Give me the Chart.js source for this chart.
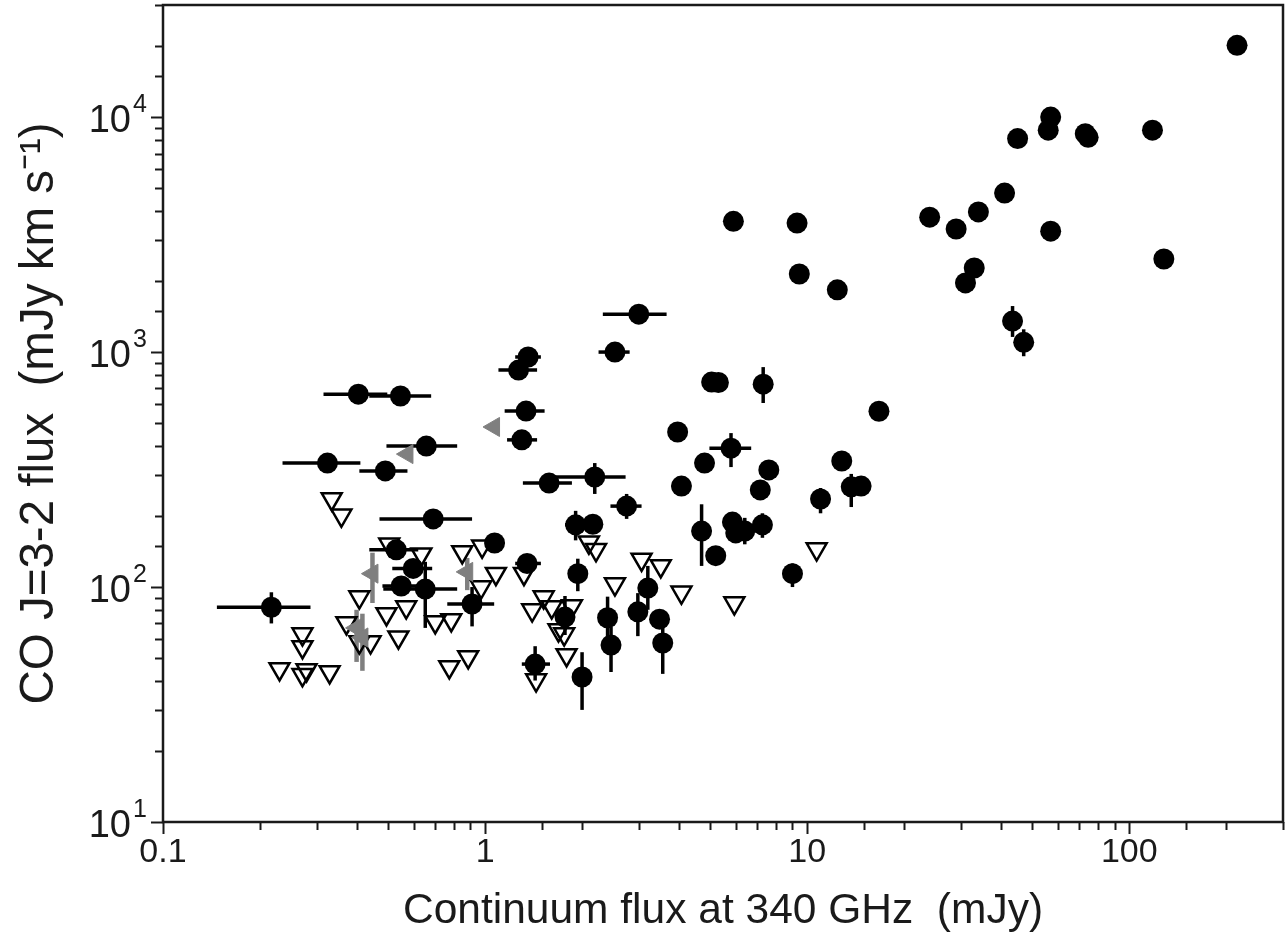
<!DOCTYPE html>
<html>
<head>
<meta charset="utf-8">
<script src="https://cdn.jsdelivr.net/npm/chart.js@4.4.1/dist/chart.umd.min.js"></script>
<style>
  html, body { margin: 0; padding: 0; background: #fff; }
  canvas { display: block; }
</style>
</head>
<body>
<canvas id="coChart" width="1286" height="937"></canvas>
<script>
// detections (filled circles): 340 GHz continuum (mJy) vs CO J=3-2 flux (mJy km/s)
const detX = [216, 57, 56, 45, 73, 74.5, 118, 41, 34, 24,
  29, 57, 128, 33, 31, 43.4, 47, 9.3, 5.9, 9.45,
  12.4, 5.05, 5.3, 7.3, 16.7, 5.8, 4.8, 7.6, 7.15, 12.8,
  11, 13.7, 14.7, 3.96, 4.07, 4.7, 5.2, 5.86, 6.0, 6.4,
  7.26, 9.0, 3.0, 2.53, 1.36, 1.27, 1.34, 1.30, 1.58, 2.19,
  2.75, 1.91, 2.16, 1.07, 1.35, 1.94, 1.77, 2.4, 2.46, 2.98,
  3.2, 3.48, 3.56, 1.43, 2.0, 0.404, 0.546, 0.657, 0.324, 0.49,
  0.69, 0.53, 0.598, 0.549, 0.652, 0.911, 0.217];
const detY = [20200, 10000, 8800, 8100, 8500, 8200, 8800, 4750, 3950, 3750,
  3340, 3270, 2490, 2280, 1970, 1355, 1100, 3540, 3600, 2150,
  1840, 745, 742, 730, 560, 390, 337, 315, 259, 344,
  237, 267, 269, 457, 269, 173, 136, 189, 170, 173,
  184, 114, 1450, 1000, 953, 838, 561, 423, 277, 294,
  221, 184, 185, 154, 126, 114, 74.5, 74, 56.6, 78.4,
  99, 73, 57.8, 47, 41.4, 662, 650, 398, 337, 312,
  195, 144, 120, 101, 98, 84.7, 82];

// error bar ends for the detections (null = no bar)
const detXLo = [null, null, null, null, null, null, null, null, null, null,
  null, null, null, null, null, null, null, null, null, null,
  null, null, null, null, null, 4.97, null, null, null, null,
  null, null, null, null, null, null, null, null, null, null,
  null, null, 2.32, 2.25, 1.24, 1.10, 1.15, 1.17, 1.31, 1.64,
  2.45, 1.77, null, null, 1.24, null, null, null, null, null,
  null, null, null, 1.30, null, 0.315, 0.437, 0.494, 0.235, 0.407,
  0.47, 0.437, 0.515, 0.48, 0.483, 0.763, 0.147];
const detXHi = [null, null, null, null, null, null, null, null, null, null,
  null, null, null, null, null, null, null, null, null, null,
  null, null, null, null, null, 6.7, null, null, null, null,
  null, null, null, null, null, null, null, null, null, null,
  null, null, 3.66, 2.81, 1.49, 1.45, 1.53, 1.45, 1.86, 2.73,
  3.06, 2.05, null, null, 1.49, null, null, null, null, null,
  null, null, null, 1.59, null, 0.497, 0.68, 0.819, 0.41, 0.574,
  0.911, 0.62, 0.685, 0.62, 0.819, 1.067, 0.287];
const detYLo = [null, null, null, null, null, null, null, null, null, null,
  null, null, null, null, null, 1160, 960, null, null, null,
  null, null, null, 607, null, 324, null, null, null, null,
  206, 219, null, null, null, 123, null, null, null, 152,
  162, 100, null, null, null, null, null, null, null, 249,
  195, 158, null, null, null, 96, 62.5, 60, 43.5, 61.8,
  80, null, 42.7, 40, 30, null, null, null, null, null,
  null, null, null, null, 67, 68, 70];
const detYHi = [null, null, null, null, null, null, null, null, null, null,
  null, null, null, null, null, 1570, 1250, null, null, null,
  null, null, null, 863, null, 452, null, null, null, null,
  264, 303, null, null, null, 225, null, null, null, 197,
  206, 126, null, null, null, null, null, null, null, 337,
  249, 211, null, null, null, 132, 91.6, 91, 67.6, 94.2,
  123, null, 67.6, 56, 52.8, null, null, null, null, null,
  null, null, null, null, 128, 100, 95];

// CO upper limits (open down triangles)
const limX = [0.334, 0.358, 0.504, 0.634, 0.849, 0.979, 1.08, 0.972, 0.407, 0.494,
  0.569, 0.371, 0.538, 0.407, 0.441, 0.70, 0.785, 0.271, 0.271, 0.23,
  0.271, 0.279, 0.329, 0.774, 0.886, 1.32, 1.52, 1.40, 1.61, 1.86,
  1.69, 1.76, 1.79, 1.44, 2.10, 2.21, 2.53, 3.06, 3.51, 4.07,
  5.94, 10.7];
const limY = [237, 202, 152, 138, 141, 149, 114, 100, 90.6, 76.8,
  82.2, 70.3, 61.2, 58.3, 58.3, 71, 72.4, 63.1, 55.6, 44.8,
  42.3, 44.4, 43.5, 45.7, 50.4, 114, 90.6, 79.8, 82.2, 83,
  65.6, 63.1, 51.4, 40.2, 155, 144, 103, 131, 123, 95,
  85.5, 145];

// continuum upper limits (grey left triangles)
const contLimX = [1.066, 0.574, 0.447, 0.88, 0.399, 0.416];
const contLimY = [480, 368, 114, 116, 67, 61];
const contLimYLo = [null, null, 85.5, 97, 48, 44];
const contLimYHi = [null, null, 140, 133, 80, 77];

const xTickLabels = ['0.1', '1', '10', '100'];
const yTickBase = '10';
const yTickExp = ['1', '2', '3', '4'];

const FONT = "'Liberation Sans', Arial, Helvetica, sans-serif";
const INK = '#1a1a1a';
const GREY = '#7f7f7f';

const toPts = (xs, ys) => xs.map((v, i) => ({ x: v, y: ys[i] }));
const decadeOf = v => {
  const e = Math.log10(v);
  return Math.abs(e - Math.round(e)) < 1e-6 ? Math.round(e) : null;
};
const noPad = s => { s.paddingLeft = 0; s.paddingRight = 0; s.paddingTop = 0; s.paddingBottom = 0; };

const axisDecor = {
  id: 'axisDecor',
  beforeDatasetsDraw(chart) {
    const { ctx, chartArea: a, scales: { x, y } } = chart;
    ctx.save();
    ctx.beginPath();
    ctx.rect(a.left, a.top, a.right - a.left, a.bottom - a.top);
    ctx.clip();
    const seg = (x1, y1, x2, y2) => {
      ctx.beginPath(); ctx.moveTo(x1, y1); ctx.lineTo(x2, y2); ctx.stroke();
    };
    ctx.strokeStyle = '#000';
    ctx.lineWidth = 3.5;
    detX.forEach((vx, i) => {
      const px = x.getPixelForValue(vx);
      const py = y.getPixelForValue(detY[i]);
      if (detXLo[i] != null) seg(x.getPixelForValue(detXLo[i]), py, x.getPixelForValue(detXHi[i]), py);
      if (detYLo[i] != null) seg(px, y.getPixelForValue(detYLo[i]), px, y.getPixelForValue(detYHi[i]));
    });
    ctx.strokeStyle = GREY;
    ctx.lineWidth = 4.5;
    contLimX.forEach((vx, i) => {
      if (contLimYLo[i] == null) return;
      const px = x.getPixelForValue(vx);
      seg(px, y.getPixelForValue(contLimYLo[i]), px, y.getPixelForValue(contLimYHi[i]));
    });
    ctx.restore();
  },
  afterDraw(chart) {
    const { ctx, chartArea: a, scales: { x, y } } = chart;
    ctx.save();
    ctx.strokeStyle = INK;
    ctx.lineWidth = 2;
    x.ticks.forEach(t => {
      const px = Math.round(x.getPixelForValue(t.value)) + 0.5;
      const len = decadeOf(t.value) !== null ? 12 : 8;
      ctx.beginPath(); ctx.moveTo(px, a.bottom); ctx.lineTo(px, a.bottom + len); ctx.stroke();
    });
    ctx.fillStyle = INK;
    ctx.textBaseline = 'alphabetic';
    y.ticks.forEach(t => {
      const py = Math.round(y.getPixelForValue(t.value)) + 0.5;
      const e = decadeOf(t.value);
      const len = e !== null ? 12 : 8;
      ctx.beginPath(); ctx.moveTo(a.left - len, py); ctx.lineTo(a.left, py); ctx.stroke();
      if (e !== null) {
        ctx.font = `38px ${FONT}`;
        ctx.textAlign = 'right';
        ctx.fillText(yTickBase, 131, py + 14);
        ctx.font = `25px ${FONT}`;
        ctx.textAlign = 'left';
        ctx.fillText(yTickExp[e - 1], 133, py - 6);
      }
    });
    ctx.lineWidth = 2.5;
    ctx.strokeRect(a.left, a.top, a.right - a.left, a.bottom - a.top);
    ctx.restore();
  }
};

new Chart(document.getElementById('coChart'), {
  type: 'scatter',
  data: {
    datasets: [
      {
        label: 'CO upper limits',
        data: toPts(limX, limY),
        pointStyle: 'triangle',
        rotation: 180,
        pointRadius: 11.5,
        backgroundColor: 'rgba(255,255,255,0)',
        borderColor: '#000',
        borderWidth: 2.5,
        order: 3
      },
      {
        label: 'Continuum upper limits',
        data: toPts(contLimX, contLimY),
        pointStyle: 'triangle',
        rotation: 270,
        pointRadius: 11,
        backgroundColor: GREY,
        borderColor: GREY,
        borderWidth: 1,
        order: 2
      },
      {
        label: 'Detections',
        data: toPts(detX, detY),
        pointStyle: 'circle',
        pointRadius: 10.5,
        backgroundColor: '#000',
        borderColor: '#000',
        borderWidth: 0,
        order: 1
      }
    ]
  },
  options: {
    responsive: false,
    animation: false,
    events: [],
    layout: { autoPadding: false, padding: { top: 5, right: 3, left: 0, bottom: 0 } },
    plugins: { legend: { display: false }, tooltip: { enabled: false } },
    scales: {
      x: {
        type: 'logarithmic',
        min: 0.1,
        max: 300,
        grid: { display: false, drawTicks: false },
        border: { display: false },
        afterFit: s => { s.height = 115; noPad(s); },
        ticks: {
          autoSkip: false,
          maxRotation: 0,
          padding: 10,
          color: INK,
          font: { family: FONT, size: 34 },
          callback: v => {
            const e = decadeOf(v);
            return e === null ? '' : xTickLabels[e + 1];
          }
        },
        title: {
          display: true,
          text: 'Continuum flux at 340 GHz  (mJy)',
          color: INK,
          font: { family: FONT, size: 42.5, lineHeight: 1 },
          padding: { top: 0, bottom: 4 }
        }
      },
      y: {
        type: 'logarithmic',
        min: 10,
        max: 30000,
        grid: { display: false, drawTicks: false },
        border: { display: false },
        afterFit: s => { s.width = 163; noPad(s); },
        ticks: { display: false, autoSkip: false },
        title: {
          display: true,
          text: 'CO J=3-2 flux  (mJy km s⁻¹)',
          color: INK,
          font: { family: FONT, size: 47.5, lineHeight: 1 },
          padding: { top: 16, bottom: 0 }
        }
      }
    }
  },
  plugins: [axisDecor]
});
</script>
</body>
</html>
